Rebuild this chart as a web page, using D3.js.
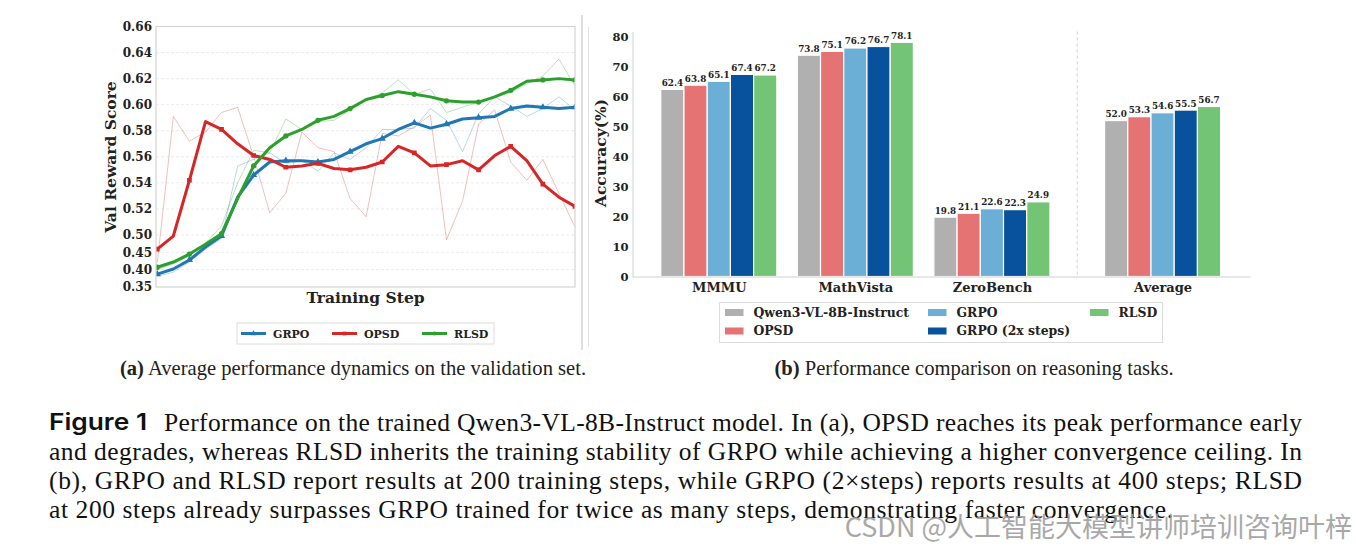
<!DOCTYPE html>
<html>
<head>
<meta charset="utf-8">
<script src="https://cdn.jsdelivr.net/npm/d3@7"></script>
<style>
  body { margin: 0; background: #fff; }
  svg text { fill: #222; }
</style>
</head>
<body>
<script>
// ---- panel (a): validation reward curves ----
var steps = [0, 1, 2, 3, 4, 5, 6, 7, 8, 9, 10, 11, 12, 13, 14, 15, 16, 17, 18, 19, 20, 21, 22, 23, 24, 25, 26];
var grpoRaw    = [0.381, 0.393, 0.422, 0.459, 0.490, 0.553, 0.558, 0.563, 0.555, 0.557, 0.549, 0.563, 0.558, 0.567, 0.581, 0.581, 0.582, 0.597, 0.588, 0.564, 0.593, 0.606, 0.599, 0.591, 0.597, 0.606, 0.596];
var grpoSmooth = [0.387, 0.402, 0.428, 0.465, 0.497, 0.529, 0.546, 0.556, 0.557, 0.557, 0.556, 0.558, 0.564, 0.570, 0.574, 0.581, 0.586, 0.582, 0.585, 0.589, 0.590, 0.591, 0.597, 0.599, 0.598, 0.597, 0.598];
var opsdRaw    = [0.420, 0.591, 0.572, 0.579, 0.594, 0.598, 0.560, 0.517, 0.532, 0.579, 0.567, 0.564, 0.528, 0.514, 0.578, 0.576, 0.583, 0.592, 0.486, 0.526, 0.585, 0.596, 0.556, 0.542, 0.558, 0.532, 0.506];
var opsdSmooth = [0.459, 0.497, 0.542, 0.587, 0.581, 0.570, 0.561, 0.558, 0.552, 0.553, 0.555, 0.551, 0.550, 0.552, 0.556, 0.568, 0.563, 0.553, 0.554, 0.557, 0.550, 0.561, 0.568, 0.557, 0.539, 0.529, 0.522];
var rlsdRaw    = [0.400, 0.417, 0.440, 0.476, 0.507, 0.540, 0.565, 0.563, 0.589, 0.581, 0.587, 0.588, 0.596, 0.604, 0.609, 0.619, 0.608, 0.612, 0.594, 0.598, 0.602, 0.606, 0.609, 0.616, 0.622, 0.635, 0.614];
var rlsdSmooth = [0.407, 0.422, 0.445, 0.473, 0.501, 0.528, 0.553, 0.567, 0.576, 0.581, 0.588, 0.591, 0.597, 0.604, 0.607, 0.610, 0.608, 0.606, 0.603, 0.602, 0.602, 0.606, 0.611, 0.618, 0.619, 0.620, 0.619];
var rewardTicks = [0.35, 0.40, 0.45, 0.50, 0.52, 0.54, 0.56, 0.58, 0.60, 0.62, 0.64, 0.66];

// ---- panel (b): benchmark accuracy ----
var benchmarks = ["MMMU", "MathVista", "ZeroBench", "Average"];
var benchPos = [0, 1, 2, 3.25];
var modelNames = ["Qwen3-VL-8B-Instruct", "OPSD", "GRPO", "GRPO (2x steps)", "RLSD"];
var qwenAcc   = [62.4, 73.8, 19.8, 52.0];
var opsdAcc   = [63.8, 75.1, 21.1, 53.3];
var grpoAcc   = [65.1, 76.2, 22.6, 54.6];
var grpo2xAcc = [67.4, 76.7, 22.3, 55.5];
var rlsdAcc   = [67.2, 78.1, 24.9, 56.7];
var accTicks = [0, 10, 20, 30, 40, 50, 60, 70, 80];

var W = 1356, H = 552;
var svg = d3.select("body").append("svg").attr("width", W).attr("height", H);
var boldSerif = "'DejaVu Serif', serif";

// ================= panel (a) =================
var xA = d3.scaleLinear().domain([-0.08, 26]).range([156, 575]);
var yA = d3.scaleLinear().domain([0.35, 0.50, 0.66]).range([287, 235, 26.5]);

var gA = svg.append("g");
// faint grid
gA.selectAll("line.grid").data(rewardTicks.slice(1, -1)).enter().append("line")
  .attr("x1", 156).attr("x2", 575)
  .attr("y1", function(d) { return yA(d); }).attr("y2", function(d) { return yA(d); })
  .attr("stroke", "#e6e6e6").attr("stroke-width", 0.8).attr("stroke-dasharray", "3,2");

var axA = gA.append("g").attr("transform", "translate(156,0)")
  .call(d3.axisLeft(yA).tickValues(rewardTicks).tickSize(0).tickPadding(4).tickFormat(d3.format(".2f")));
axA.select(".domain").remove();
axA.selectAll("text").attr("font-family", boldSerif).attr("font-weight", "bold").attr("font-size", 12).attr("fill", "#222");

var seriesA = [
  { raw: grpoRaw, smooth: grpoSmooth, color: "#1f77b4", sym: d3.symbolTriangle, name: "GRPO" },
  { raw: opsdRaw, smooth: opsdSmooth, color: "#d62728", sym: d3.symbolSquare, name: "OPSD" },
  { raw: rlsdRaw, smooth: rlsdSmooth, color: "#2ca02c", sym: d3.symbolCircle, name: "RLSD" }
];
var lineA = d3.line().x(function(d, i) { return xA(steps[i]); }).y(function(d) { return yA(d); });

var clip = svg.append("clipPath").attr("id", "clipA").append("rect")
  .attr("x", 156).attr("y", 26.5).attr("width", 419).attr("height", 261);
var plotA = gA.append("g").attr("clip-path", "url(#clipA)");

seriesA.forEach(function(s) {
  plotA.append("path").datum(s.raw).attr("d", lineA)
    .attr("fill", "none").attr("stroke", s.color).attr("stroke-width", 1).attr("opacity", 0.3);
});
seriesA.forEach(function(s) {
  plotA.append("path").datum(s.smooth).attr("d", lineA)
    .attr("fill", "none").attr("stroke", s.color).attr("stroke-width", 3).attr("stroke-linejoin", "round");
  plotA.selectAll(null).data(s.smooth.filter(function(d, i) { return i % 2 === 0; })).enter()
    .append("path")
    .attr("d", d3.symbol().type(s.sym).size(22))
    .attr("transform", function(d, i) { return "translate(" + xA(steps[i * 2]) + "," + yA(d) + ")"; })
    .attr("fill", s.color);
});

gA.append("rect").attr("x", 156).attr("y", 26.5).attr("width", 419).attr("height", 260.5)
  .attr("fill", "none").attr("stroke", "#d4d4d4").attr("stroke-width", 1.2);

gA.append("text").attr("transform", "translate(116,157) rotate(-90)").attr("text-anchor", "middle")
  .attr("font-family", boldSerif).attr("font-weight", "bold").attr("font-size", 15.5).text("Val Reward Score");
gA.append("text").attr("x", 365.5).attr("y", 303).attr("text-anchor", "middle")
  .attr("font-family", boldSerif).attr("font-weight", "bold").attr("font-size", 15.5).text("Training Step");

// legend (a)
gA.append("rect").attr("x", 237).attr("y", 323).attr("width", 257).attr("height", 21)
  .attr("fill", "#fff").attr("stroke", "#dcdcdc").attr("stroke-width", 1);
var legAx = [241, 332, 422];
seriesA.forEach(function(s, i) {
  var lg = gA.append("g").attr("transform", "translate(" + legAx[i] + ",333.5)");
  lg.append("line").attr("x1", 0).attr("x2", 25).attr("stroke", s.color).attr("stroke-width", 3);
  lg.append("path").attr("d", d3.symbol().type(s.sym).size(14)).attr("transform", "translate(12.5,0)").attr("fill", s.color);
  lg.append("text").attr("x", 32).attr("y", 4).attr("font-family", boldSerif).attr("font-weight", "bold")
    .attr("font-size", 11).text(s.name);
});

svg.append("text").attr("x", 353).attr("y", 375).attr("text-anchor", "middle")
  .attr("font-family", "'Liberation Serif', serif").attr("font-size", 20.6)
  .html("<tspan font-weight='bold'>(a)</tspan> Average performance dynamics on the validation set.");

// panel separators
svg.append("line").attr("x1", 582).attr("x2", 582).attr("y1", 15).attr("y2", 350).attr("stroke", "#bdbdbd").attr("stroke-width", 1);
svg.append("line").attr("x1", 588.5).attr("x2", 588.5).attr("y1", 27).attr("y2", 347).attr("stroke", "#e0e0e0").attr("stroke-width", 1);

// ================= panel (b) =================
var xB = d3.scaleLinear().domain([-0.632, 3.89]).range([632.5, 1250]);
var yB = d3.scaleLinear().domain([0, 81.7]).range([276.5, 31.5]);
var gB = svg.append("g");

var modelAcc = [qwenAcc, opsdAcc, grpoAcc, grpo2xAcc, rlsdAcc];
var modelColors = ["#b0b0b0", "#e57373", "#6baed6", "#08519c", "#74c476"];
var barW = 0.17;

gB.append("line").attr("x1", xB(2.625)).attr("x2", xB(2.625)).attr("y1", yB(81.7)).attr("y2", yB(0))
  .attr("stroke", "#c4c4c4").attr("stroke-width", 0.8).attr("stroke-dasharray", "3,3");

modelAcc.forEach(function(vals, j) {
  var off = (j - 2) * barW;
  gB.selectAll(null).data(vals).enter().append("rect")
    .attr("x", function(d, i) { return xB(benchPos[i] + off - barW / 2); })
    .attr("width", xB(barW) - xB(0))
    .attr("y", function(d) { return yB(d); })
    .attr("height", function(d) { return yB(0) - yB(d); })
    .attr("fill", modelColors[j]).attr("stroke", "#fff").attr("stroke-width", 1.2);
  gB.selectAll(null).data(vals).enter().append("text")
    .attr("x", function(d, i) { return xB(benchPos[i] + off); })
    .attr("y", function(d) { return yB(d) - 3.5; })
    .attr("text-anchor", "middle").attr("font-family", boldSerif).attr("font-weight", "bold")
    .attr("font-size", 8.8).attr("fill", "#111")
    .text(function(d) { return d3.format(".1f")(d); });
});

var axBy = gB.append("g").attr("transform", "translate(632.5,0)")
  .call(d3.axisLeft(yB).tickValues(accTicks).tickSize(0).tickPadding(4));
axBy.select(".domain").attr("stroke", "#d0d0d0");
axBy.selectAll("text").attr("font-family", boldSerif).attr("font-weight", "bold").attr("font-size", 11.5).attr("fill", "#222");

var xBaxis = d3.axisBottom(xB).tickValues(benchPos).tickSize(0).tickPadding(6)
  .tickFormat(function(d) { return benchmarks[benchPos.indexOf(d)]; });
var axBx = gB.append("g").attr("transform", "translate(0,276.5)").call(xBaxis);
axBx.select(".domain").attr("stroke", "#d0d0d0");
axBx.selectAll("text").attr("font-family", boldSerif).attr("font-weight", "bold").attr("font-size", 13).attr("fill", "#222");

gB.append("text").attr("transform", "translate(606,153) rotate(-90)").attr("text-anchor", "middle")
  .attr("font-family", boldSerif).attr("font-weight", "bold").attr("font-size", 15.5).text("Accuracy(%)");

// legend (b)
gB.append("rect").attr("x", 719.5).attr("y", 302.5).attr("width", 443).attr("height", 40)
  .attr("fill", "#fff").attr("stroke", "#dcdcdc").attr("stroke-width", 1);
var legBx = [725, 725, 928, 928, 1090];
var legBy = [312.5, 331, 312.5, 331, 312.5];
modelNames.forEach(function(n, j) {
  var lg = gB.append("g").attr("transform", "translate(" + legBx[j] + "," + legBy[j] + ")");
  lg.append("rect").attr("x", 0).attr("y", -3.5).attr("width", 18.5).attr("height", 7).attr("fill", modelColors[j]);
  lg.append("text").attr("x", 28.5).attr("y", 4.4).attr("font-family", boldSerif).attr("font-weight", "bold")
    .attr("font-size", 12.4).text(n);
});

svg.append("text").attr("x", 974).attr("y", 375).attr("text-anchor", "middle")
  .attr("font-family", "'Liberation Serif', serif").attr("font-size", 20.6)
  .html("<tspan font-weight='bold'>(b)</tspan> Performance comparison on reasoning tasks.");

// ================= figure caption =================
var capLines = [
  "Performance on the trained Qwen3-VL-8B-Instruct model. In (a), OPSD reaches its peak performance early",
  "and degrades, whereas RLSD inherits the training stability of GRPO while achieving a higher convergence ceiling. In",
  "(b), GRPO and RLSD report results at 200 training steps, while GRPO (2\u00d7steps) reports results at 400 steps; RLSD",
  "at 200 steps already surpasses GRPO trained for twice as many steps, demonstrating faster convergence."
];
var capX0 = [164, 49, 49, 49], capX1 = [1302, 1302, 1302, 1173];
var capY = [431, 460, 489, 518];
svg.append("text").attr("x", 49).attr("y", 430).attr("font-family", "Inter, sans-serif").attr("font-weight", 600)
  .attr("font-size", 23).attr("textLength", 98).attr("lengthAdjust", "spacingAndGlyphs").style("fill", "#111").text("Figure 1");
capLines.forEach(function(t, i) {
  svg.append("text").attr("x", capX0[i]).attr("y", capY[i])
    .attr("font-family", "'Liberation Serif', serif").attr("font-size", 25.5)
    .attr("textLength", capX1[i] - capX0[i]).attr("lengthAdjust", "spacing")
    .style("fill", "#111").text(t);
});

// watermark
svg.append("text").attr("x", 1352).attr("y", 537).attr("text-anchor", "end")
  .attr("font-family", "'Noto Sans CJK SC', sans-serif").attr("font-size", 27)
  .style("fill", "#9a9a9a").attr("opacity", 0.85).text("CSDN @人工智能大模型讲师培训咨询叶梓");
</script>
</body>
</html>
